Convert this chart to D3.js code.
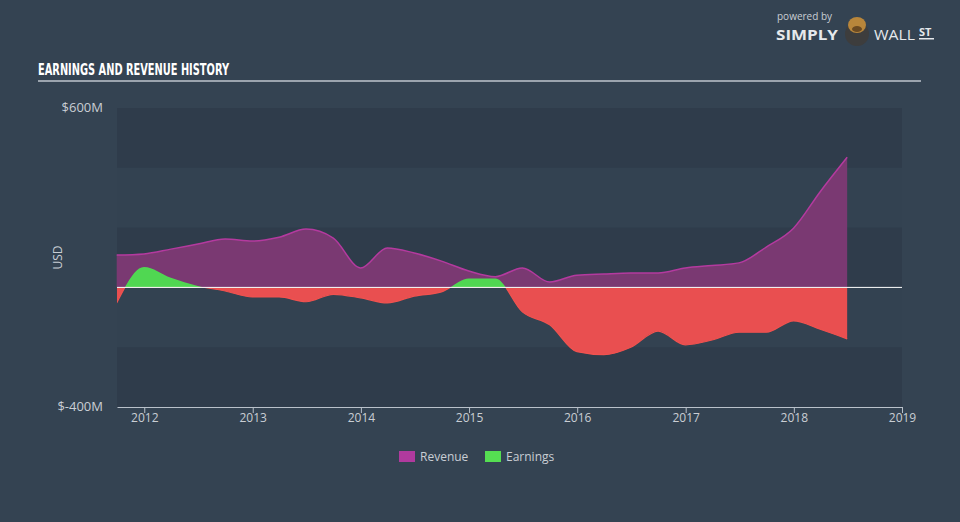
<!DOCTYPE html>
<meta charset="utf-8">
<style>
  body, html { margin:0; padding:0; background:#344352; }
  svg { display:block; }
  text { font-family: "Open Sans", "DejaVu Sans", sans-serif; }
</style>
<body>
<svg id="chart" width="960" height="522"></svg>
<script src="https://d3js.org/d3.v7.min.js"></script>
<script>

// quarterly dates
var dates = ["2011-09-30","2011-12-31","2012-03-31","2012-06-30","2012-09-30","2012-12-31",
  "2013-03-31","2013-06-30","2013-09-30","2013-12-31","2014-03-31","2014-06-30","2014-09-30",
  "2014-12-31","2015-03-31","2015-06-30","2015-09-30","2015-12-31","2016-03-31","2016-06-30",
  "2016-09-30","2016-12-31","2017-03-31","2017-06-30","2017-09-30","2017-12-31","2018-03-31",
  "2018-06-30"];

// values in $M
var revenue = [108,112,128,145,162,155,168,195,165,65,132,115,88,55,36,65,18,41,45,48,48,65,73,82,135,198,320,435];
var earnings = [-52,68,32,5,-12,-32,-32,-48,-23,-35,-52,-29,-15,30,30,-82,-125,-215,-225,-200,-146,-192,-176,-150,-150,-112,-140,-172];

var yTicks = [600, -400];
var xTicks = [2012,2013,2014,2015,2016,2017,2018,2019];

var parseDate = d3.timeParse("%Y-%m-%d");
var data = dates.map(function(d, i) {
    return {date: parseDate(d), revenue: revenue[i], earnings: earnings[i]};
});

var svg = d3.select("#chart");

var plotL = 117, plotR = 902, plotT = 108, plotB = 407;

var x = d3.scaleTime()
    .domain([parseDate("2011-10-01"), parseDate("2019-01-01")])
    .range([plotL, plotR]);

var y = d3.scaleLinear()
    .domain([-400, 600])
    .range([plotB, plotT]);

// title
svg.append("text")
    .attr("x", 38).attr("y", 75)
    .attr("fill", "#ffffff")
    .style("font-family", "'Liberation Sans Narrow', 'DejaVu Sans Condensed', sans-serif")
    .style("font-weight", "bold")
    .style("font-size", "16px")
    .attr("textLength", 191)
    .attr("lengthAdjust", "spacingAndGlyphs")
    .text("EARNINGS AND REVENUE HISTORY");

svg.append("rect")
    .attr("x", 38).attr("y", 80)
    .attr("width", 883).attr("height", 2)
    .attr("fill", "#9ba4ae");

// logo
var logo = svg.append("g");
logo.append("text").attr("x", 777).attr("y", 20)
    .attr("fill", "#c9ced4").style("font-size", "10px").text("powered by");
logo.append("text").attr("x", 776).attr("y", 40)
    .attr("fill", "#e6e9ec").style("font-size", "15px").style("font-weight", "bold")
    .attr("textLength", 62).attr("lengthAdjust", "spacingAndGlyphs").text("SIMPLY");
logo.append("circle").attr("cx", 857).attr("cy", 34).attr("r", 12).attr("fill", "#3d3d3d");
logo.append("ellipse").attr("cx", 857).attr("cy", 25).attr("rx", 9).attr("ry", 8).attr("fill", "#b8863b");
logo.append("ellipse").attr("cx", 857).attr("cy", 29).attr("rx", 5).attr("ry", 3).attr("fill", "#6b4a22");
logo.append("text").attr("x", 874).attr("y", 40)
    .attr("fill", "#e6e9ec").style("font-size", "15px")
    .attr("textLength", 41).attr("lengthAdjust", "spacingAndGlyphs").text("WALL");
logo.append("text").attr("x", 919).attr("y", 36)
    .attr("fill", "#e6e9ec").style("font-size", "11px").style("font-weight", "bold").text("ST");
logo.append("rect").attr("x", 919).attr("y", 38).attr("width", 15).attr("height", 1.5).attr("fill", "#e6e9ec");

// bands
var bandEdges = [600, 400, 200, 0, -200, -400];
svg.append("g").selectAll("rect")
    .data(d3.range(bandEdges.length - 1))
    .enter().append("rect")
    .attr("x", plotL)
    .attr("width", plotR - plotL)
    .attr("y", function(i) { return y(bandEdges[i]); })
    .attr("height", function(i) { return y(bandEdges[i + 1]) - y(bandEdges[i]); })
    .attr("fill", function(i) { return i % 2 == 0 ? "#2f3c4b" : "#334251"; });

var curve = d3.curveMonotoneX;

// revenue
var revArea = d3.area()
    .x(function(d) { return x(d.date); })
    .y0(y(0))
    .y1(function(d) { return y(d.revenue); })
    .curve(curve);
var revLine = d3.line()
    .x(function(d) { return x(d.date); })
    .y(function(d) { return y(d.revenue); })
    .curve(curve);

svg.append("path").datum(data).attr("d", revArea).attr("fill", "#7a3972");
svg.append("path").datum(data).attr("d", revLine)
    .attr("fill", "none").attr("stroke", "#b43a9f").attr("stroke-width", 1.5);

// earnings, split at zero
var defs = svg.append("defs");
defs.append("clipPath").attr("id", "clip-pos").append("rect")
    .attr("x", plotL).attr("y", plotT).attr("width", plotR - plotL).attr("height", y(0) - plotT);
defs.append("clipPath").attr("id", "clip-neg").append("rect")
    .attr("x", plotL).attr("y", y(0)).attr("width", plotR - plotL).attr("height", plotB - y(0));

var earnArea = d3.area()
    .x(function(d) { return x(d.date); })
    .y0(y(0))
    .y1(function(d) { return y(d.earnings); })
    .curve(curve);
var earnLine = d3.line()
    .x(function(d) { return x(d.date); })
    .y(function(d) { return y(d.earnings); })
    .curve(curve);

svg.append("path").datum(data).attr("d", earnArea)
    .attr("fill", "#50d752").attr("clip-path", "url(#clip-pos)");
svg.append("path").datum(data).attr("d", earnArea)
    .attr("fill", "#e94f50").attr("clip-path", "url(#clip-neg)");
svg.append("path").datum(data).attr("d", earnLine)
    .attr("fill", "none").attr("stroke", "#f0524f").attr("stroke-width", 1.2)
    .attr("clip-path", "url(#clip-neg)");

// zero line
svg.append("line")
    .attr("x1", plotL).attr("x2", plotR)
    .attr("y1", y(0)).attr("y2", y(0))
    .attr("stroke", "#ffffff").attr("stroke-width", 1);

// y labels
svg.append("g").selectAll("text")
    .data(yTicks)
    .enter().append("text")
    .attr("x", 103)
    .attr("y", function(d) { return y(d) + 4; })
    .attr("text-anchor", "end")
    .attr("fill", "#c9ced4")
    .style("font-size", "13px")
    .text(function(d) { return "$" + d + "M"; });

svg.append("text")
    .attr("transform", "translate(62," + y(100) + ") rotate(-90)")
    .attr("text-anchor", "middle")
    .attr("fill", "#c9ced4")
    .style("font-size", "12px")
    .text("USD");

// x axis
var xAxis = d3.axisBottom(x)
    .tickValues(xTicks.map(function(d) { return new Date(d, 0, 1); }))
    .tickFormat(d3.timeFormat("%Y"))
    .tickSize(6)
    .tickSizeOuter(0);

var gx = svg.append("g")
    .attr("transform", "translate(0," + plotB + ")")
    .call(xAxis);
gx.select(".domain").attr("stroke", "#b9c1ca");
gx.selectAll(".tick line").attr("stroke", "#b9c1ca");
gx.selectAll(".tick text")
    .attr("fill", "#c9ced4")
    .attr("dy", "0.9em")
    .attr("y", 4)
    .style("font-size", "12px")
    .style("font-family", "'Open Sans', sans-serif");

// legend
var legendItems = [
    {name: "Revenue", color: "#b03a9e", x: 399},
    {name: "Earnings", color: "#55de52", x: 485}
];
var legend = svg.append("g").selectAll("g")
    .data(legendItems)
    .enter().append("g")
    .attr("transform", function(d) { return "translate(" + d.x + ",451)"; });
legend.append("rect").attr("width", 16).attr("height", 11)
    .attr("fill", function(d) { return d.color; });
legend.append("text").attr("x", 21).attr("y", 10)
    .attr("fill", "#c9ced4")
    .style("font-size", "12px")
    .text(function(d) { return d.name; });

</script>
</body>
